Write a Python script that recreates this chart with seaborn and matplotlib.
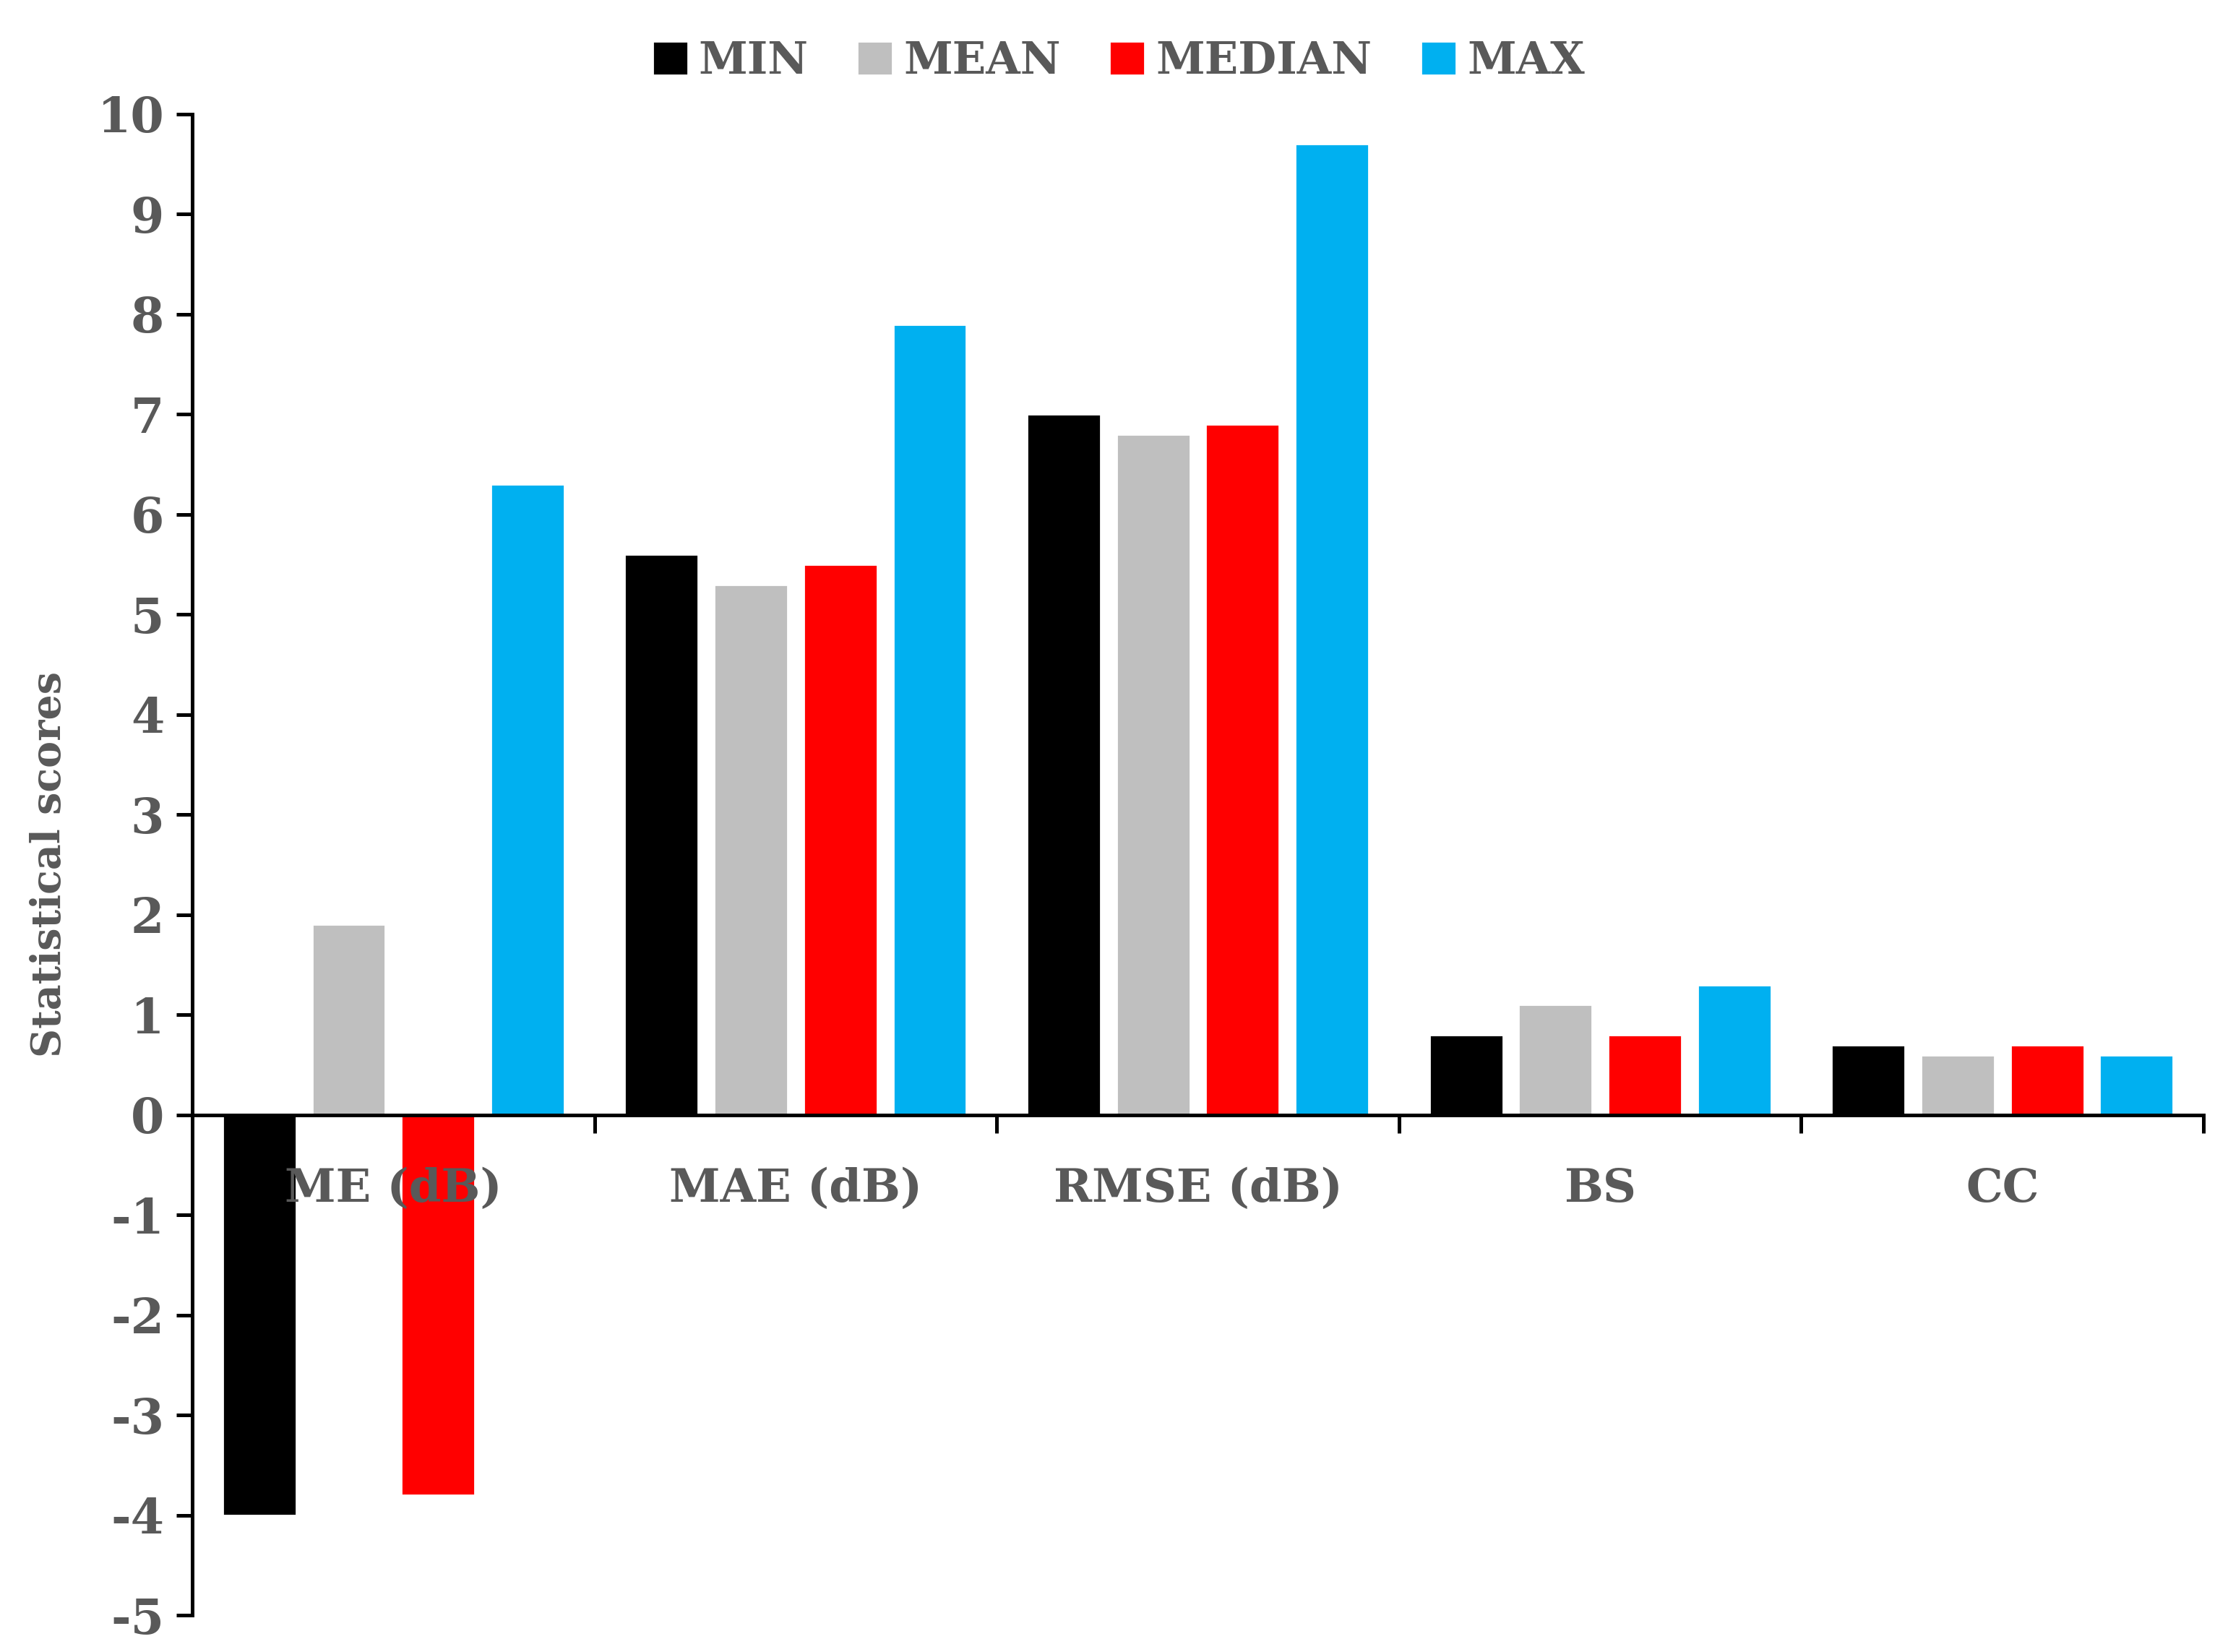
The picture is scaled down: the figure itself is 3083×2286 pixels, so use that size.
import numpy as np
import pandas as pd
import matplotlib
matplotlib.use("Agg")
import matplotlib.pyplot as plt
import seaborn as sns

categories = ["ME (dB)", "MAE (dB)", "RMSE (dB)", "BS", "CC"]
series = ["MIN", "MEAN", "MEDIAN", "MAX"]
min_vals = [-4.0, 5.6, 7.0, 0.8, 0.7]
mean_vals = [1.9, 5.3, 6.8, 1.1, 0.6]
median_vals = [-3.8, 5.5, 6.9, 0.8, 0.7]
max_vals = [6.3, 7.9, 9.7, 1.3, 0.6]
colors = ["#000000", "#BFBFBF", "#FF0000", "#00B0F0"]
y_ticks = list(range(-5, 11))

sns.set_theme(style="white")
plt.rcParams["font.family"] = ["DejaVu Serif"]
plt.rcParams["font.weight"] = "bold"
plt.rcParams["axes.axisbelow"] = False
txt = "#595959"

df = pd.DataFrame({
    "metric": categories * 4,
    "stat": [s for s in series for _ in categories],
    "value": min_vals + mean_vals + median_vals + max_vals,
})

fig = plt.figure(figsize=(15.415, 11.43), dpi=200)
ax = fig.add_axes([0.0863, 0.0223, 0.989 - 0.0863, 0.931 - 0.0223])
sns.barplot(data=df, x="metric", y="value", hue="stat", order=categories,
            hue_order=series, palette=colors, saturation=1, width=0.889,
            gap=0.176, ax=ax, errorbar=None, legend=True)
ax.set_axisbelow(False)

ax.set_ylim(-5, 10)
ax.set_xlim(-0.5, 4.5)
ax.set_yticks(y_ticks)
ax.set_yticklabels([str(t) for t in y_ticks])
ax.set_xticks(np.arange(-0.5, 5.0, 1.0), minor=True)
ax.set_xticks(range(len(categories)))
ax.set_xticklabels(categories)
ax.tick_params(axis="x", which="major", length=0, pad=26, labelsize=23, labelcolor=txt)
ax.tick_params(axis="x", which="minor", length=9, width=1.8, direction="out", color="black", bottom=True)
ax.tick_params(axis="y", length=8, width=1.8, direction="out", color="black", left=True, pad=6,
               labelsize=24, labelcolor=txt)
for lab in ax.get_xticklabels() + ax.get_yticklabels():
    lab.set_fontweight("bold")

for s in ["top", "right"]:
    ax.spines[s].set_visible(False)
ax.spines["bottom"].set_position(("data", 0))
for s in ["left", "bottom"]:
    ax.spines[s].set_color("black")
    ax.spines[s].set_linewidth(1.8)

ax.set_xlabel("")
ax.set_ylabel("Statistical scores", color=txt, fontsize=20, fontweight="bold", labelpad=14)

handles, labels = ax.get_legend_handles_labels()
ax.legend_.remove()
leg = fig.legend(handles, labels, loc="center", bbox_to_anchor=(0.502, 0.963), ncol=4,
                 frameon=False, handlelength=0.8, handleheight=0.8,
                 handletextpad=0.25, columnspacing=1.1, prop={"weight": "bold", "size": 22})
for t in leg.get_texts():
    t.set_color(txt)

fig.savefig("out.png", dpi=200)
